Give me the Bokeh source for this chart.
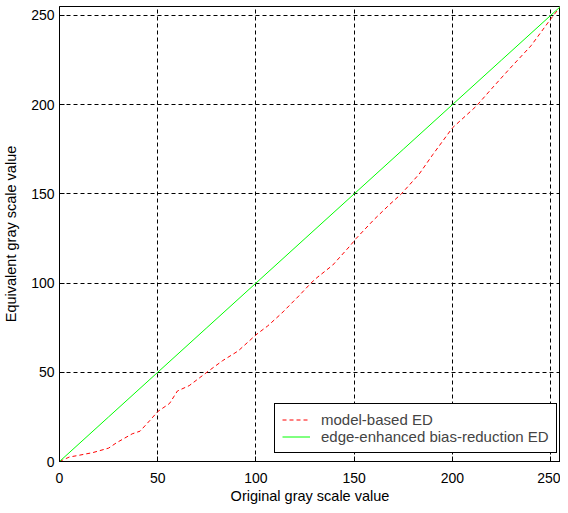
from bokeh.plotting import figure
from bokeh.models import Range1d, FixedTicker
from bokeh.embed import file_html
from bokeh.resources import INLINE

# Data
ticks = [0, 50, 100, 150, 200, 250]

model_x = [0, 5, 10, 17, 25, 29, 37, 41, 46, 50, 56, 60, 66, 75, 83, 91, 100,
           106, 113, 122, 128, 131, 139, 148, 151, 160, 168, 174, 183, 190,
           200, 212, 220, 229, 240, 250, 255]
model_y = [0, 2.5, 3.5, 5, 7.5, 10.5, 15.5, 17, 23, 28, 32.5, 39.5, 42.5, 50,
           56.5, 62, 71, 76, 83, 93, 100, 103, 110, 121, 125, 135.5, 144, 150,
           161, 172, 187, 199, 209, 220, 233, 248, 255]

edge_x = [0, 25, 50, 75, 100, 125, 150, 175, 200, 225, 250, 255]
edge_y = [0, 25, 50, 75, 100, 125, 150, 175, 200, 225, 250, 255]

FONT = "Liberation Sans"

p = figure(output_backend="svg", toolbar_location=None,
           x_range=Range1d(0, 255), y_range=Range1d(0, 255),
           frame_width=501, frame_height=455,
           min_border_left=59, min_border_right=0, min_border_top=6,
           min_border_bottom=44)
p.background_fill_color = "white"
p.border_fill_color = "white"
p.outline_line_color = "black"
p.outline_line_width = 1

for ax in (p.xaxis[0], p.yaxis[0]):
    ax.ticker = FixedTicker(ticks=ticks)
    ax.major_tick_in = 5
    ax.major_tick_out = 0
    ax.minor_tick_in = 0
    ax.minor_tick_out = 0
    ax.axis_line_color = "black"
    ax.major_tick_line_color = "black"
    ax.major_label_text_font = FONT
    ax.major_label_text_font_size = "14px"
    ax.major_label_text_color = "black"
    ax.axis_label_text_font = FONT
    ax.axis_label_text_font_size = "14.5px"
    ax.axis_label_text_font_style = "normal"
    ax.axis_label_text_color = "black"

p.xaxis.axis_label = "Original gray scale value"
p.yaxis.axis_label = "Equivalent gray scale value"
p.xaxis.major_label_standoff = 11
p.yaxis.major_label_standoff = 5
p.xaxis.axis_label_standoff = 2
p.yaxis.axis_label_standoff = 9

p.grid.ticker = FixedTicker(ticks=ticks)
p.grid.grid_line_color = "black"
p.grid.grid_line_dash = "4 3"
p.grid.grid_line_width = 1

p.line(model_x, model_y, line_color="#ff0000", line_width=1, line_dash="4 3",
       legend_label="model-based ED")
p.line(edge_x, edge_y, line_color="#00ff00", line_width=1,
       legend_label="edge-enhanced bias-reduction ED")

lg = p.legend[0]
lg.location = (215, 8)
lg.margin = 0
lg.padding = 7
lg.spacing = 0
lg.label_height = 17
lg.glyph_height = 17
lg.glyph_width = 28
lg.label_standoff = 11
lg.label_text_font = FONT
lg.label_text_font_size = "15px"
lg.border_line_color = "black"
lg.border_line_width = 1
lg.border_line_alpha = 1
lg.background_fill_color = "white"
lg.background_fill_alpha = 1

open("out.html", "w").write(file_html(p, INLINE))
